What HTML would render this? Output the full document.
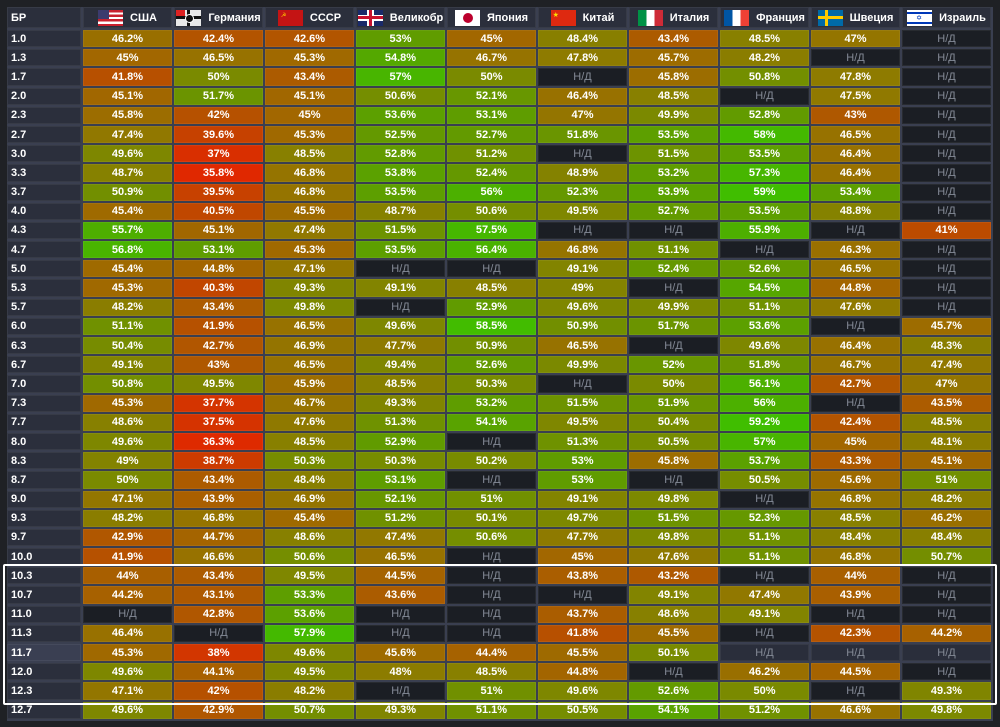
<!DOCTYPE html>
<html><head><meta charset="utf-8">
<style>
body{margin:0;width:1000px;height:727px;background:#1f2125;overflow:hidden;font-family:"Liberation Sans","DejaVu Sans",sans-serif;}
#g{position:absolute;left:7px;top:7px;display:grid;grid-template-columns:74px repeat(10,89px);grid-template-rows:21px repeat(36,17.2px);gap:2px;background:#3a3f50;padding:0 2px 2px 0;}
#g>div{color:#fff;font-weight:bold;font-size:11px;display:flex;align-items:center;justify-content:center;box-sizing:border-box;border:1px solid rgba(255,255,255,0.06);white-space:nowrap;overflow:hidden;}
#g>div.l{justify-content:flex-start;padding-left:3px;background:#2b2f3c;}
#g>div.h{background:#2b2f3c;}
#g>div.n{background:#1b1e24;color:#858b97;font-weight:normal;}
#g>div.hl{background:#3a3f52;}
#g>div.n.hl{background:#2a2e3b;}
.f{display:inline-block;width:25px;height:16px;margin-right:7px;position:relative;overflow:hidden;flex:none}
#box{position:absolute;left:3px;top:564px;width:990px;height:137px;border:2px solid #fff;border-radius:2px;}
</style></head><body>
<div id="g">
<div class="l h">БР</div>
<div class="h"><span class="f" style="background:repeating-linear-gradient(#c8202e 0 2.3px,#fff 2.3px 4.6px)"><span style="position:absolute;left:0;top:0;width:11px;height:9px;background:#3c3b6e"></span></span>США</div>
<div class="h"><span class="f" style="background:#e8e8e8"><span style="position:absolute;left:0;top:0;width:9px;height:7px;background:#d22"></span><span style="position:absolute;left:11px;top:0;width:3px;height:16px;background:#111"></span><span style="position:absolute;left:0;top:6px;width:25px;height:3px;background:#111"></span><span style="position:absolute;left:9px;top:4px;width:7px;height:7px;border-radius:50%;background:#111;border:1px solid #fff"></span></span>Германия</div>
<div class="h"><span class="f" style="background:#c41414"><span style="position:absolute;left:3px;top:2px;color:#fc0;font-size:6px">☭</span></span>СССР</div>
<div class="h"><span class="f" style="background:#1a2a6a"><span style="position:absolute;left:0;top:5px;width:25px;height:6px;background:#fff"></span><span style="position:absolute;left:9px;top:0;width:7px;height:16px;background:#fff"></span><span style="position:absolute;left:0;top:6.5px;width:25px;height:3px;background:#c8102e"></span><span style="position:absolute;left:11px;top:0;width:3px;height:16px;background:#c8102e"></span></span>Великобр</div>
<div class="h"><span class="f" style="background:#fff"><span style="position:absolute;left:8px;top:3px;width:10px;height:10px;border-radius:50%;background:#bc002d"></span></span>Япония</div>
<div class="h"><span class="f" style="background:#de2910"><span style="position:absolute;left:2px;top:1px;color:#ffde00;font-size:7px">★</span></span>Китай</div>
<div class="h"><span class="f" style="background:linear-gradient(90deg,#009246 0 33%,#fff 33% 66%,#ce2b37 66%)"></span>Италия</div>
<div class="h"><span class="f" style="background:linear-gradient(90deg,#0055a4 0 33%,#fff 33% 66%,#ef4135 66%)"></span>Франция</div>
<div class="h"><span class="f" style="background:#006aa7"><span style="position:absolute;left:0;top:6.5px;width:25px;height:3px;background:#fecc00"></span><span style="position:absolute;left:7px;top:0;width:3px;height:16px;background:#fecc00"></span></span>Швеция</div>
<div class="h"><span class="f" style="background:#fff"><span style="position:absolute;left:0;top:2px;width:25px;height:2px;background:#0038b8"></span><span style="position:absolute;left:0;top:12px;width:25px;height:2px;background:#0038b8"></span><span style="position:absolute;left:9px;top:4px;color:#0038b8;font-size:7px">✡</span></span>Израиль</div>

<div class="l">1.0</div><div>46.2%</div><div>42.4%</div><div>42.6%</div><div>53%</div><div>45%</div><div>48.4%</div><div>43.4%</div><div>48.5%</div><div>47%</div><div>Н/Д</div>
<div class="l">1.3</div><div>45%</div><div>46.5%</div><div>45.3%</div><div>54.8%</div><div>46.7%</div><div>47.8%</div><div>45.7%</div><div>48.2%</div><div>Н/Д</div><div>Н/Д</div>
<div class="l">1.7</div><div>41.8%</div><div>50%</div><div>43.4%</div><div>57%</div><div>50%</div><div>Н/Д</div><div>45.8%</div><div>50.8%</div><div>47.8%</div><div>Н/Д</div>
<div class="l">2.0</div><div>45.1%</div><div>51.7%</div><div>45.1%</div><div>50.6%</div><div>52.1%</div><div>46.4%</div><div>48.5%</div><div>Н/Д</div><div>47.5%</div><div>Н/Д</div>
<div class="l">2.3</div><div>45.8%</div><div>42%</div><div>45%</div><div>53.6%</div><div>53.1%</div><div>47%</div><div>49.9%</div><div>52.8%</div><div>43%</div><div>Н/Д</div>
<div class="l">2.7</div><div>47.4%</div><div>39.6%</div><div>45.3%</div><div>52.5%</div><div>52.7%</div><div>51.8%</div><div>53.5%</div><div>58%</div><div>46.5%</div><div>Н/Д</div>
<div class="l">3.0</div><div>49.6%</div><div>37%</div><div>48.5%</div><div>52.8%</div><div>51.2%</div><div>Н/Д</div><div>51.5%</div><div>53.5%</div><div>46.4%</div><div>Н/Д</div>
<div class="l">3.3</div><div>48.7%</div><div>35.8%</div><div>46.8%</div><div>53.8%</div><div>52.4%</div><div>48.9%</div><div>53.2%</div><div>57.3%</div><div>46.4%</div><div>Н/Д</div>
<div class="l">3.7</div><div>50.9%</div><div>39.5%</div><div>46.8%</div><div>53.5%</div><div>56%</div><div>52.3%</div><div>53.9%</div><div>59%</div><div>53.4%</div><div>Н/Д</div>
<div class="l">4.0</div><div>45.4%</div><div>40.5%</div><div>45.5%</div><div>48.7%</div><div>50.6%</div><div>49.5%</div><div>52.7%</div><div>53.5%</div><div>48.8%</div><div>Н/Д</div>
<div class="l">4.3</div><div>55.7%</div><div>45.1%</div><div>47.4%</div><div>51.5%</div><div>57.5%</div><div>Н/Д</div><div>Н/Д</div><div>55.9%</div><div>Н/Д</div><div>41%</div>
<div class="l">4.7</div><div>56.8%</div><div>53.1%</div><div>45.3%</div><div>53.5%</div><div>56.4%</div><div>46.8%</div><div>51.1%</div><div>Н/Д</div><div>46.3%</div><div>Н/Д</div>
<div class="l">5.0</div><div>45.4%</div><div>44.8%</div><div>47.1%</div><div>Н/Д</div><div>Н/Д</div><div>49.1%</div><div>52.4%</div><div>52.6%</div><div>46.5%</div><div>Н/Д</div>
<div class="l">5.3</div><div>45.3%</div><div>40.3%</div><div>49.3%</div><div>49.1%</div><div>48.5%</div><div>49%</div><div>Н/Д</div><div>54.5%</div><div>44.8%</div><div>Н/Д</div>
<div class="l">5.7</div><div>48.2%</div><div>43.4%</div><div>49.8%</div><div>Н/Д</div><div>52.9%</div><div>49.6%</div><div>49.9%</div><div>51.1%</div><div>47.6%</div><div>Н/Д</div>
<div class="l">6.0</div><div>51.1%</div><div>41.9%</div><div>46.5%</div><div>49.6%</div><div>58.5%</div><div>50.9%</div><div>51.7%</div><div>53.6%</div><div>Н/Д</div><div>45.7%</div>
<div class="l">6.3</div><div>50.4%</div><div>42.7%</div><div>46.9%</div><div>47.7%</div><div>50.9%</div><div>46.5%</div><div>Н/Д</div><div>49.6%</div><div>46.4%</div><div>48.3%</div>
<div class="l">6.7</div><div>49.1%</div><div>43%</div><div>46.5%</div><div>49.4%</div><div>52.6%</div><div>49.9%</div><div>52%</div><div>51.8%</div><div>46.7%</div><div>47.4%</div>
<div class="l">7.0</div><div>50.8%</div><div>49.5%</div><div>45.9%</div><div>48.5%</div><div>50.3%</div><div>Н/Д</div><div>50%</div><div>56.1%</div><div>42.7%</div><div>47%</div>
<div class="l">7.3</div><div>45.3%</div><div>37.7%</div><div>46.7%</div><div>49.3%</div><div>53.2%</div><div>51.5%</div><div>51.9%</div><div>56%</div><div>Н/Д</div><div>43.5%</div>
<div class="l">7.7</div><div>48.6%</div><div>37.5%</div><div>47.6%</div><div>51.3%</div><div>54.1%</div><div>49.5%</div><div>50.4%</div><div>59.2%</div><div>42.4%</div><div>48.5%</div>
<div class="l">8.0</div><div>49.6%</div><div>36.3%</div><div>48.5%</div><div>52.9%</div><div>Н/Д</div><div>51.3%</div><div>50.5%</div><div>57%</div><div>45%</div><div>48.1%</div>
<div class="l">8.3</div><div>49%</div><div>38.7%</div><div>50.3%</div><div>50.3%</div><div>50.2%</div><div>53%</div><div>45.8%</div><div>53.7%</div><div>43.3%</div><div>45.1%</div>
<div class="l">8.7</div><div>50%</div><div>43.4%</div><div>48.4%</div><div>53.1%</div><div>Н/Д</div><div>53%</div><div>Н/Д</div><div>50.5%</div><div>45.6%</div><div>51%</div>
<div class="l">9.0</div><div>47.1%</div><div>43.9%</div><div>46.9%</div><div>52.1%</div><div>51%</div><div>49.1%</div><div>49.8%</div><div>Н/Д</div><div>46.8%</div><div>48.2%</div>
<div class="l">9.3</div><div>48.2%</div><div>46.8%</div><div>45.4%</div><div>51.2%</div><div>50.1%</div><div>49.7%</div><div>51.5%</div><div>52.3%</div><div>48.5%</div><div>46.2%</div>
<div class="l">9.7</div><div>42.9%</div><div>44.7%</div><div>48.6%</div><div>47.4%</div><div>50.6%</div><div>47.7%</div><div>49.8%</div><div>51.1%</div><div>48.4%</div><div>48.4%</div>
<div class="l">10.0</div><div>41.9%</div><div>46.6%</div><div>50.6%</div><div>46.5%</div><div>Н/Д</div><div>45%</div><div>47.6%</div><div>51.1%</div><div>46.8%</div><div>50.7%</div>
<div class="l">10.3</div><div>44%</div><div>43.4%</div><div>49.5%</div><div>44.5%</div><div>Н/Д</div><div>43.8%</div><div>43.2%</div><div>Н/Д</div><div>44%</div><div>Н/Д</div>
<div class="l">10.7</div><div>44.2%</div><div>43.1%</div><div>53.3%</div><div>43.6%</div><div>Н/Д</div><div>Н/Д</div><div>49.1%</div><div>47.4%</div><div>43.9%</div><div>Н/Д</div>
<div class="l">11.0</div><div>Н/Д</div><div>42.8%</div><div>53.6%</div><div>Н/Д</div><div>Н/Д</div><div>43.7%</div><div>48.6%</div><div>49.1%</div><div>Н/Д</div><div>Н/Д</div>
<div class="l">11.3</div><div>46.4%</div><div>Н/Д</div><div>57.9%</div><div>Н/Д</div><div>Н/Д</div><div>41.8%</div><div>45.5%</div><div>Н/Д</div><div>42.3%</div><div>44.2%</div>
<div class="l hl">11.7</div><div class="hl">45.3%</div><div class="hl">38%</div><div class="hl">49.6%</div><div class="hl">45.6%</div><div class="hl">44.4%</div><div class="hl">45.5%</div><div class="hl">50.1%</div><div class="hl">Н/Д</div><div class="hl">Н/Д</div><div class="hl">Н/Д</div>
<div class="l">12.0</div><div>49.6%</div><div>44.1%</div><div>49.5%</div><div>48%</div><div>48.5%</div><div>44.8%</div><div>Н/Д</div><div>46.2%</div><div>44.5%</div><div>Н/Д</div>
<div class="l">12.3</div><div>47.1%</div><div>42%</div><div>48.2%</div><div>Н/Д</div><div>51%</div><div>49.6%</div><div>52.6%</div><div>50%</div><div>Н/Д</div><div>49.3%</div>
<div class="l">12.7</div><div>49.6%</div><div>42.9%</div><div>50.7%</div><div>49.3%</div><div>51.1%</div><div>50.5%</div><div>54.1%</div><div>51.2%</div><div>46.6%</div><div>49.8%</div>
</div>
<div id="box"></div>
<script>
var S=[[36,224,40,0],[40,195,68,0],[43,175,88,0],[46,155,110,0],[48,140,124,0],[50,122,138,0],[53,96,156,0],[56,76,176,0],[59,64,190,0]];
function col(v){if(v<=S[0][0])return S[0];for(var i=1;i<S.length;i++){if(v<=S[i][0]){var a=S[i-1],b=S[i],t=(v-a[0])/(b[0]-a[0]);return [0,a[1]+(b[1]-a[1])*t,a[2]+(b[2]-a[2])*t,0];}}return S[S.length-1];}
document.querySelectorAll('#g>div').forEach(function(d){if(d.classList.contains('l')||d.classList.contains('h'))return;var t=d.textContent;if(t.indexOf('%')<0){d.classList.add('n');return;}var c=col(parseFloat(t));d.style.background='rgb('+Math.round(c[1])+','+Math.round(c[2])+',0)';});
</script>
</body></html>
